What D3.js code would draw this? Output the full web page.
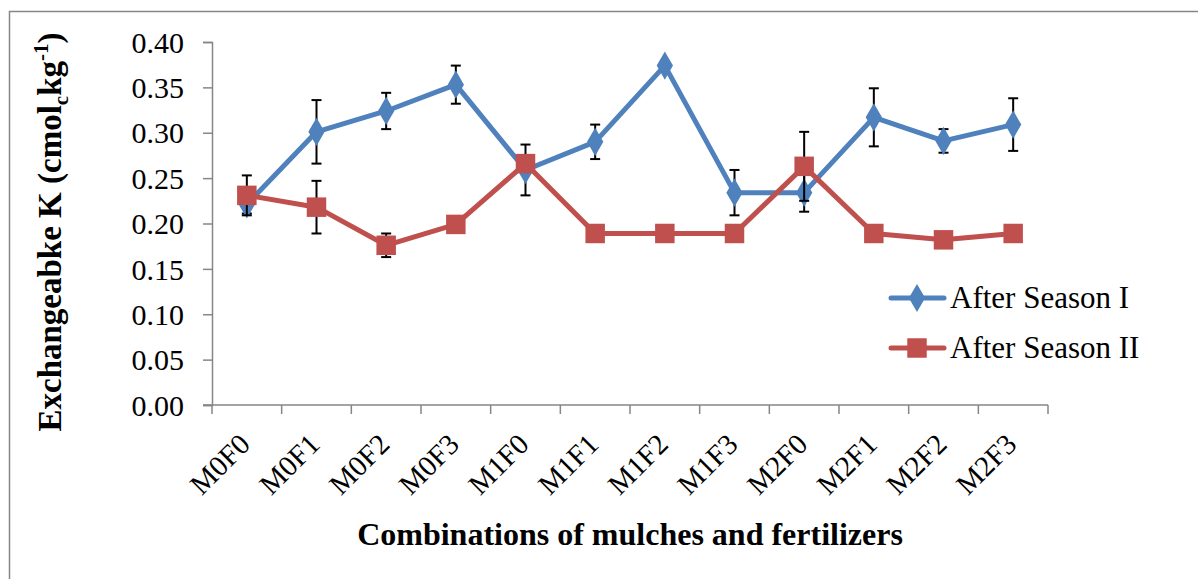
<!DOCTYPE html>
<html>
<head>
<meta charset="utf-8">
<script src="https://cdn.jsdelivr.net/npm/d3@7"></script>
<style>
  body { margin: 0; background: #fff; }
  svg { display: block; font-family: "Liberation Serif", "Times New Roman", serif; }
</style>
</head>
<body>
<script>
// ---- data ----
const categories = ["M0F0", "M0F1", "M0F2", "M0F3", "M1F0", "M1F1", "M1F2", "M1F3", "M2F0", "M2F1", "M2F2", "M2F3"];
const seasonI = [0.221, 0.301, 0.324, 0.353, 0.259, 0.290, 0.374, 0.234, 0.234, 0.317, 0.291, 0.309];
const seasonIErr = [0.010, 0.035, 0.020, 0.021, 0.028, 0.019, 0, 0.025, 0.021, 0.032, 0.013, 0.029];
const seasonII = [0.231, 0.218, 0.176, 0.199, 0.266, 0.189, 0.189, 0.189, 0.263, 0.189, 0.182, 0.189];
const seasonIIErr = [0.022, 0.029, 0.013, 0, 0, 0, 0, 0, 0.038, 0, 0, 0];
const yTicks = [0, 0.05, 0.10, 0.15, 0.20, 0.25, 0.30, 0.35, 0.40];

const width = 1198, height = 579;
const blue = "#4F81BD", red = "#C0504D", axisGrey = "#868686";
const serif = "Liberation Serif";

const svg = d3.select("body").append("svg")
  .attr("width", width)
  .attr("height", height);

// outer frame
svg.append("rect")
  .attr("x", 9.5).attr("y", 11.5)
  .attr("width", 1250).attr("height", 700)
  .attr("fill", "none").attr("stroke", axisGrey).attr("stroke-width", 1.5);

// ---- scales ----
const x = d3.scaleBand().domain(categories).range([212, 1048]);
const cx = d => x(d) + x.bandwidth() / 2;
const y = d3.scaleLinear().domain([0, 0.4]).range([405, 42]);

// ---- axes ----
const yAxis = svg.append("g")
  .attr("transform", "translate(212,0)")
  .call(d3.axisLeft(y).tickValues(yTicks).tickFormat(d3.format(".2f")).tickSize(9).tickPadding(19))
  .attr("font-family", serif)
  .attr("font-size", 30);
yAxis.select(".domain").attr("stroke", axisGrey).attr("stroke-width", 1.5);
yAxis.selectAll(".tick line").attr("stroke", axisGrey).attr("stroke-width", 1.5);
yAxis.selectAll(".tick text").attr("fill", "#000").attr("dy", "0.34em");

const xg = svg.append("g");
xg.append("line")
  .attr("x1", 203).attr("x2", 1048)
  .attr("y1", y(0)).attr("y2", y(0))
  .attr("stroke", axisGrey).attr("stroke-width", 1.5);
const edges = categories.map(c => x(c)).concat([x.range()[1]]);
xg.selectAll("line.tk").data(edges).enter().append("line")
  .attr("class", "tk")
  .attr("x1", d => d).attr("x2", d => d)
  .attr("y1", y(0)).attr("y2", y(0) + 9)
  .attr("stroke", axisGrey).attr("stroke-width", 1.5);
xg.selectAll("text").data(categories).enter().append("text")
  .attr("transform", d => "translate(" + (cx(d) + 5) + "," + (y(0) + 41) + ") rotate(-45)")
  .attr("text-anchor", "end")
  .style("font-size", "29px")
  .text(d => d);

// axis titles
svg.append("text")
  .attr("x", 630).attr("y", 545)
  .attr("text-anchor", "middle")
  .style("font-size", "32px").style("font-weight", "bold")
  .text("Combinations of mulches and fertilizers");

const yt = svg.append("text")
  .attr("transform", "translate(61,232) rotate(-90)")
  .attr("text-anchor", "middle")
  .style("font-size", "33px").style("font-weight", "bold");
yt.append("tspan").text("Exchangeabke K (cmol");
yt.append("tspan").attr("dy", 7).style("font-size", "21px").text("c");
yt.append("tspan").attr("dy", -7).text("kg");
yt.append("tspan").attr("dy", -13).style("font-size", "21px").text("-1");
yt.append("tspan").attr("dy", 13).text(")");

// ---- series ----
const series = [
  { name: "After Season I", values: seasonI, err: seasonIErr, color: blue, shape: d3.symbolDiamond },
  { name: "After Season II", values: seasonII, err: seasonIIErr, color: red, shape: d3.symbolSquare }
];

const line = d3.line().x((d, i) => cx(categories[i])).y(d => y(d));

series.forEach(s => {
  const g = svg.append("g");
  g.append("path")
    .datum(s.values)
    .attr("d", line)
    .attr("fill", "none")
    .attr("stroke", s.color)
    .attr("stroke-width", 5)
    .attr("stroke-linejoin", "round");

  // error bars
  const eb = g.selectAll("g.err")
    .data(s.values.map((v, i) => ({ v: v, e: s.err[i], c: categories[i] })).filter(d => d.e > 0))
    .enter().append("g").attr("class", "err")
    .attr("stroke", "#000").attr("stroke-width", 2);
  eb.append("line")
    .attr("x1", d => cx(d.c)).attr("x2", d => cx(d.c))
    .attr("y1", d => y(d.v - d.e)).attr("y2", d => y(d.v + d.e));
  eb.append("line")
    .attr("x1", d => cx(d.c) - 5).attr("x2", d => cx(d.c) + 5)
    .attr("y1", d => y(d.v + d.e)).attr("y2", d => y(d.v + d.e));
  eb.append("line")
    .attr("x1", d => cx(d.c) - 5).attr("x2", d => cx(d.c) + 5)
    .attr("y1", d => y(d.v - d.e)).attr("y2", d => y(d.v - d.e));

  g.selectAll("path.pt")
    .data(s.values)
    .enter().append("path")
    .attr("class", "pt")
    .attr("d", d3.symbol().type(s.shape).size(s.shape === d3.symbolSquare ? 380 : 230))
    .attr("transform", (d, i) => "translate(" + cx(categories[i]) + "," + y(d) + ")")
    .attr("fill", s.color);
});

// ---- legend ----
const legend = svg.append("g");
series.forEach((s, i) => {
  const ly = 298 + i * 50;
  legend.append("line")
    .attr("x1", 891).attr("x2", 944)
    .attr("y1", ly).attr("y2", ly)
    .attr("stroke", s.color).attr("stroke-width", 5).attr("stroke-linecap", "round");
  legend.append("path")
    .attr("d", d3.symbol().type(s.shape).size(s.shape === d3.symbolSquare ? 380 : 230))
    .attr("transform", "translate(917," + ly + ")")
    .attr("fill", s.color);
  legend.append("text")
    .attr("x", 950).attr("y", ly + 10)
    .style("font-size", "31px")
    .text(s.name);
});
</script>
</body>
</html>
